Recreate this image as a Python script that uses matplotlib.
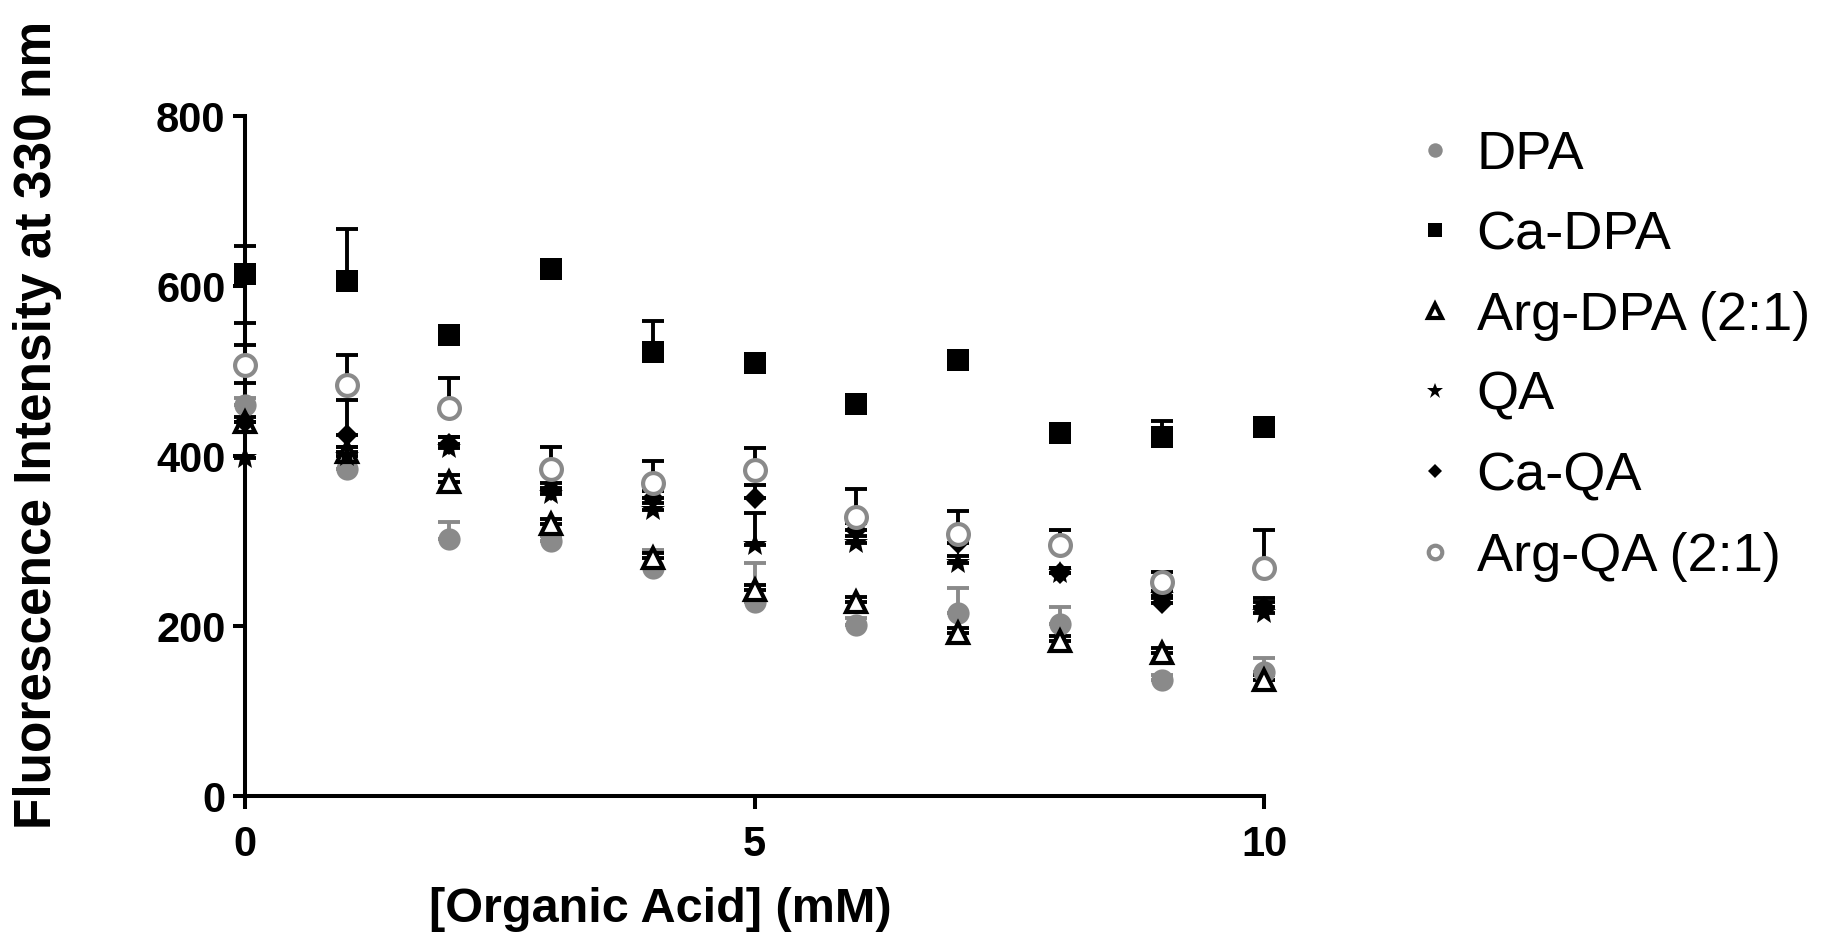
import matplotlib
matplotlib.use("Agg")
import matplotlib.pyplot as plt
import numpy as np

conc = [0, 1, 2, 3, 4, 5, 6, 7, 8, 9, 10]

dpa      = [460, 385, 302, 300, 268, 228, 201, 215, 203, 137, 146]
dpa_err  = [8, 8, 21, 6, 22, 46, 8, 30, 20, 6, 16]
cadpa     = [615, 606, 543, 621, 523, 510, 462, 513, 427, 423, 435]
cadpa_err = [33, 61, 3, 3, 36, 8, 3, 3, 3, 18, 3]
argdpa     = [440, 405, 370, 320, 280, 243, 228, 192, 182, 168, 137]
argdpa_err = [6, 6, 8, 6, 6, 6, 6, 6, 6, 6, 6]
qa      = [398, 400, 410, 355, 337, 296, 298, 274, 262, 235, 215]
qa_err  = [159, 11, 13, 8, 8, 37, 8, 8, 6, 6, 18]
caqa     = [440, 425, 415, 360, 351, 351, 313, 298, 262, 227, 222]
caqa_err = [46, 41, 8, 8, 8, 15, 8, 8, 6, 6, 6]
argqa     = [508, 484, 457, 385, 368, 384, 329, 309, 296, 252, 268]
argqa_err = [23, 35, 35, 26, 26, 26, 33, 26, 17, 12, 45]

labels = ["DPA", "Ca-DPA", "Arg-DPA (2:1)", "QA", "Ca-QA", "Arg-QA (2:1)"]

GREY = "#8a8a8a"
fig = plt.figure(figsize=(18.27, 9.46), dpi=100)
ax = fig.add_axes([245/1827, 1-796/946, (1264-245)/1827, (796-116.5)/946])

series = [
    (dpa, dpa_err, dict(marker="o", ms=16, mfc=GREY, mec=GREY, mew=0), GREY),
    (cadpa, cadpa_err, dict(marker="s", ms=16, mfc="black", mec="black", mew=0), "black"),
    (argdpa, argdpa_err, dict(marker="^", ms=15, mfc="white", mec="black", mew=3), "black"),
    (qa, qa_err, dict(marker="*", ms=18, mfc="black", mec="black", mew=0), "black"),
    (caqa, caqa_err, dict(marker="D", ms=11, mfc="black", mec="black", mew=0), "black"),
    (argqa, argqa_err, dict(marker="o", ms=15, mfc="white", mec=GREY, mew=3), "black"),
]

handles = []
for (vals, err, mk, ecol), lab in zip(series, labels):
    v = np.array(vals, dtype=float)
    e = np.array(err, dtype=float)
    ax.errorbar(conc, v, yerr=[np.zeros_like(e), e], fmt="none", ecolor=ecol,
                elinewidth=2.8, capsize=8, capthick=2.8, zorder=2, clip_on=False)
    h, = ax.plot(conc, v, linestyle="none", zorder=3, clip_on=False, label=lab, **mk)
    handles.append(h)

ax.set_xlim(0, 10)
ax.set_ylim(0, 800)
ax.set_xticks([0, 5, 10])
ax.set_yticks([0, 200, 400, 600, 800])
for s in ["top", "right"]:
    ax.spines[s].set_visible(False)
for s in ["left", "bottom"]:
    ax.spines[s].set_linewidth(2.9)
ax.tick_params(axis="both", direction="out", length=9, width=2.9)
ax.tick_params(axis="x", pad=12)
ax.tick_params(axis="y", pad=5)

for t in ax.get_xticklabels() + ax.get_yticklabels():
    t.set_fontfamily(["Liberation Sans", "DejaVu Sans"])
    t.set_fontweight("bold")
    t.set_fontsize(30)

labfont = ["Liberation Sans", "DejaVu Sans"]
fig.text(660/1827, 1-909/946, "[Organic Acid] (mM)", ha="center", va="center",
         family=labfont, weight="bold", size=35)
fig.text(38/1827, 1-425/946, "Fluorescence Intensity at 330 nm", ha="center", va="center",
         rotation=90, family=labfont, weight="bold", size=37)

leg = fig.legend(handles=handles, labels=labels, loc="upper left",
                 bbox_to_anchor=(1416/1827, 1-130/946), frameon=False,
                 prop=dict(family=["Liberation Sans", "DejaVu Sans"], size=39),
                 handlelength=0.7, handletextpad=0.42, labelspacing=0.56,
                 markerscale=0.65, borderpad=0, borderaxespad=0)

fig.savefig("out.png", dpi=100)
